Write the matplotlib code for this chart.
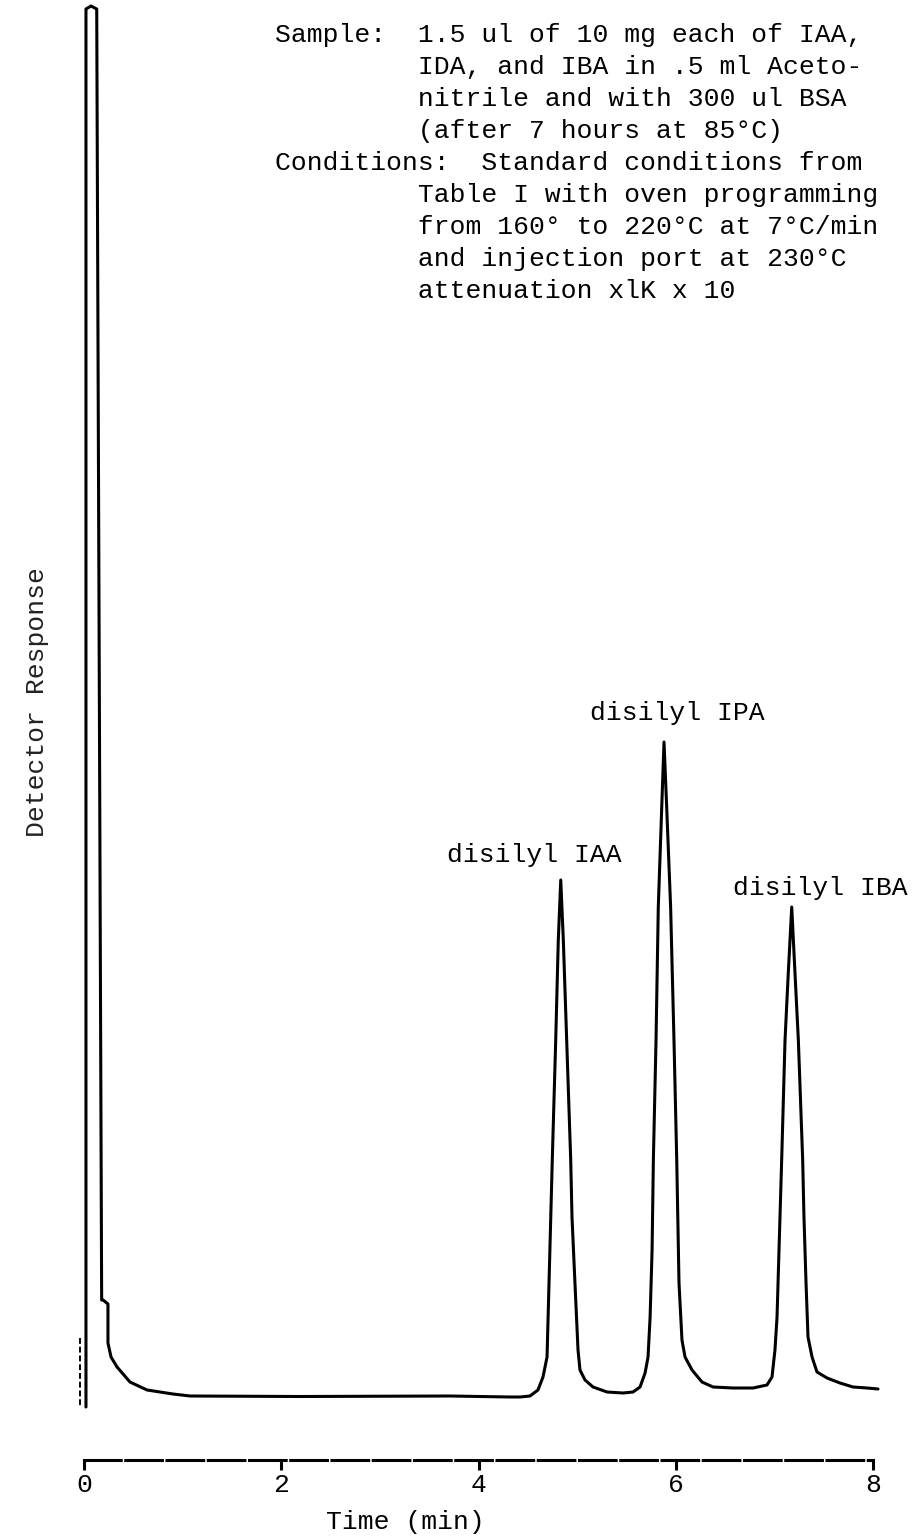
import matplotlib
matplotlib.use("Agg")
import matplotlib.pyplot as plt
import numpy as np

# ---------------- data ----------------
# detector trace: time (min) and response (arbitrary units, baseline ~0)
time_min = [
    0.020, 0.020, 0.071, 0.129, 0.179, 0.193, 0.243, 0.243, 0.274, 0.335,
    0.466, 0.639, 0.902, 1.075, 2.19, 3.71, 4.32, 4.42,
    4.522, 4.603, 4.654, 4.695, 4.715, 4.748, 4.783, 4.809, 4.834, 4.860,
    4.894, 4.935, 4.948, 4.978, 5.009, 5.029, 5.080, 5.161, 5.303, 5.465,
    5.567, 5.638, 5.689, 5.719,
    5.740, 5.760, 5.773, 5.800, 5.823, 5.858, 5.881, 5.908, 5.948, 5.982,
    6.010, 6.033, 6.063, 6.094, 6.165, 6.266, 6.378, 6.581, 6.784, 6.925,
    6.976, 7.006,
    7.027, 7.047, 7.074, 7.108, 7.141, 7.176, 7.209, 7.243, 7.287, 7.300,
    7.321, 7.341, 7.382, 7.432, 7.534, 7.665, 7.797, 7.939, 8.051,
]
response = [
    -1.0, 138.8, 139.1, 138.8, 9.7, 9.7, 9.3, 5.4, 4.0, 3.0,
    1.5, 0.7, 0.3, 0.1, 0.05, 0.1, 0.0, 0.0,
    0.1, 0.7, 2.0, 4.0, 11.4, 23.7, 35.7, 45.7, 51.7, 45.7,
    35.7, 23.7, 18.0, 11.4, 4.7, 2.7, 1.7, 1.0, 0.5, 0.4,
    0.5, 1.0, 2.4, 4.0,
    8.0, 14.7, 23.7, 35.7, 49.0, 59.0, 65.5, 59.0, 49.0, 35.7,
    23.7, 11.4, 5.7, 4.0, 2.7, 1.5, 1.0, 0.9, 0.9, 1.2,
    2.0, 4.7,
    8.0, 14.7, 23.7, 35.7, 42.4, 49.0, 42.4, 35.7, 23.7, 18.0,
    11.4, 6.0, 4.0, 2.5, 1.9, 1.4, 1.0, 0.9, 0.8,
]
# short pen stroke left of the injection peak
artifact_time = [-0.041, -0.041]
artifact_resp = [5.9, -1.0]

peak_names = ["disilyl IAA", "disilyl IPA", "disilyl IBA"]
peak_times = [4.834, 5.881, 7.176]
peak_heights = [51.7, 65.5, 49.0]

x_ticks = [0, 2, 4, 6, 8]
x_ticklabels = ["0", "2", "4", "6", "8"]

note_lines = [
    "Sample:  1.5 ul of 10 mg each of IAA,",
    "         IDA, and IBA in .5 ml Aceto-",
    "         nitrile and with 300 ul BSA",
    "         (after 7 hours at 85\u00b0C)",
    "Conditions:  Standard conditions from",
    "         Table I with oven programming",
    "         from 160\u00b0 to 220\u00b0C at 7\u00b0C/min",
    "         and injection port at 230\u00b0C",
    "         attenuation xlK x 10",
]

# ---------------- figure ----------------
W, H = 913, 1539
DPI = 100
FONT = "Liberation Mono"
FS = 19

fig = plt.figure(figsize=(W / DPI, H / DPI), dpi=DPI)
fig.patch.set_facecolor("white")

ax_left, ax_right = 84, 873      # px positions of t=0 and t=8
ax_bottom_px = 1460              # px (from top) of time axis line
ax = fig.add_axes([ax_left / W, (H - ax_bottom_px) / H,
                   (ax_right - ax_left) / W, ax_bottom_px / H])
ax.set_xlim(0, 8)
ax.set_ylim(-6.3, 139.7)

ax.plot(time_min, response, color="black", lw=2.2, clip_on=False,
        solid_joinstyle="round", solid_capstyle="round")
ax.plot(artifact_time, artifact_resp, color="black", lw=1.4,
        ls=(0, (3, 1.5)), clip_on=False)

for sp in ["left", "right", "top"]:
    ax.spines[sp].set_visible(False)
ax.spines["bottom"].set_linewidth(2.2)
ax.spines["bottom"].set_linestyle((0, (12, 1.5)))
ax.set_yticks([])
ax.set_xticks(x_ticks)
ax.set_xticklabels(x_ticklabels, fontfamily=FONT, fontsize=FS)
ax.tick_params(axis="x", direction="out", length=7, width=2.2, pad=2)

ax.set_xlabel("Time (min)", fontfamily=FONT, fontsize=FS, labelpad=4)
ax.xaxis.set_label_coords((405 - ax_left) / (ax_right - ax_left),
                          -(1522 - ax_bottom_px) / ax_bottom_px)
ax.xaxis.label.set_va("center")

fig.text(37 / W, 1 - 702 / H, "Detector Response", rotation=90,
         fontfamily=FONT, fontsize=FS, ha="center", va="center",
         color="#222222")

# peak labels
label_offsets = [(-0.27, 2.5), (0.13, 2.9), (0.29, 1.9)]
for name, t, h, (dx, dy) in zip(peak_names, peak_times, peak_heights, label_offsets):
    ax.text(t + dx, h + dy, name, fontfamily=FONT, fontsize=FS,
            ha="center", va="center", color="black")

# notes block
for i, line in enumerate(note_lines):
    fig.text(275 / W, 1 - (35 + 32 * i) / H, line, fontfamily=FONT,
             fontsize=FS, ha="left", va="center", color="black")

fig.savefig("out.png", dpi=DPI, facecolor="white")
